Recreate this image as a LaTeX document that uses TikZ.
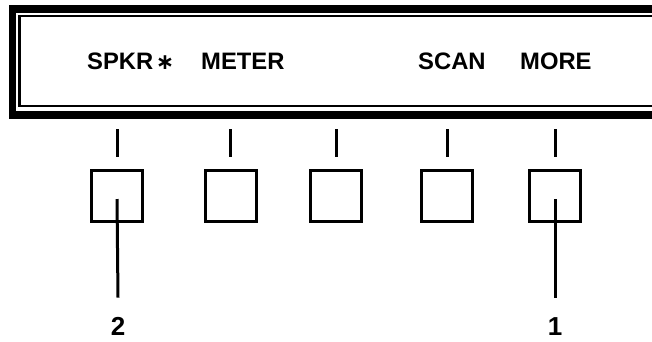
\documentclass[tikz,border=0pt]{standalone}
\usepackage{fontspec}
\setmainfont{Liberation Sans}
\newfontfamily\symfont{DejaVu Sans}
\usetikzlibrary{positioning,calc}

\begin{document}
\begin{tikzpicture}[
  x=1pt,
  y=-1pt,
  line cap=butt,
  line join=miter,
  button/.style={draw, line width=3pt, minimum size=51pt, inner sep=0pt},
  tick/.style={line width=3pt},
  leader/.style={line width=3pt},
  softkey/.style={anchor=base west, inner sep=0pt,
    font=\bfseries\fontsize{23.8}{28}\selectfont},
  callout/.style={anchor=base, inner sep=0pt,
    font=\bfseries\fontsize{26}{30}\selectfont}
]

\useasboundingbox (0,0) rectangle (652,341);
\clip (0,0) rectangle (652,341);

% Display frame (runs off the right edge)
\draw[line width=7.5pt] (12.5,9) rectangle (700,115);
\draw[line width=2.2pt] (19.5,16) rectangle (700,106);

% Soft key labels on the display
\node[softkey] (spkr) at (87,69) {SPKR};
\node[anchor=base, inner sep=0pt, font=\symfont\bfseries\fontsize{22}{26}\selectfont]
  (star) at (165,69) {∗};
\node[softkey] (meter) at (201,69) {METER};
\node[softkey] (scan) at (418,69) {SCAN};
\node[softkey] (more) at (520,69) {MORE};

% Keys and their tick marks
\foreach \i/\x in {1/117, 2/230.5, 3/336, 4/447, 5/555}{
  \draw[tick] (\x,129) -- (\x,157);
  \node[button] (b\i) at (\x,196) {};
}

% Callout numbers
\node[callout] (n2) at (118,335) {2};
\node[callout] (n1) at (555,335) {1};

% Leader lines
\draw[leader] ([yshift=-3pt]b1.center) -- ([yshift=19pt]n2.north);
\draw[leader] ([yshift=-3pt]b5.center) -- ([yshift=19pt]n1.north);

\end{tikzpicture}
\end{document}
